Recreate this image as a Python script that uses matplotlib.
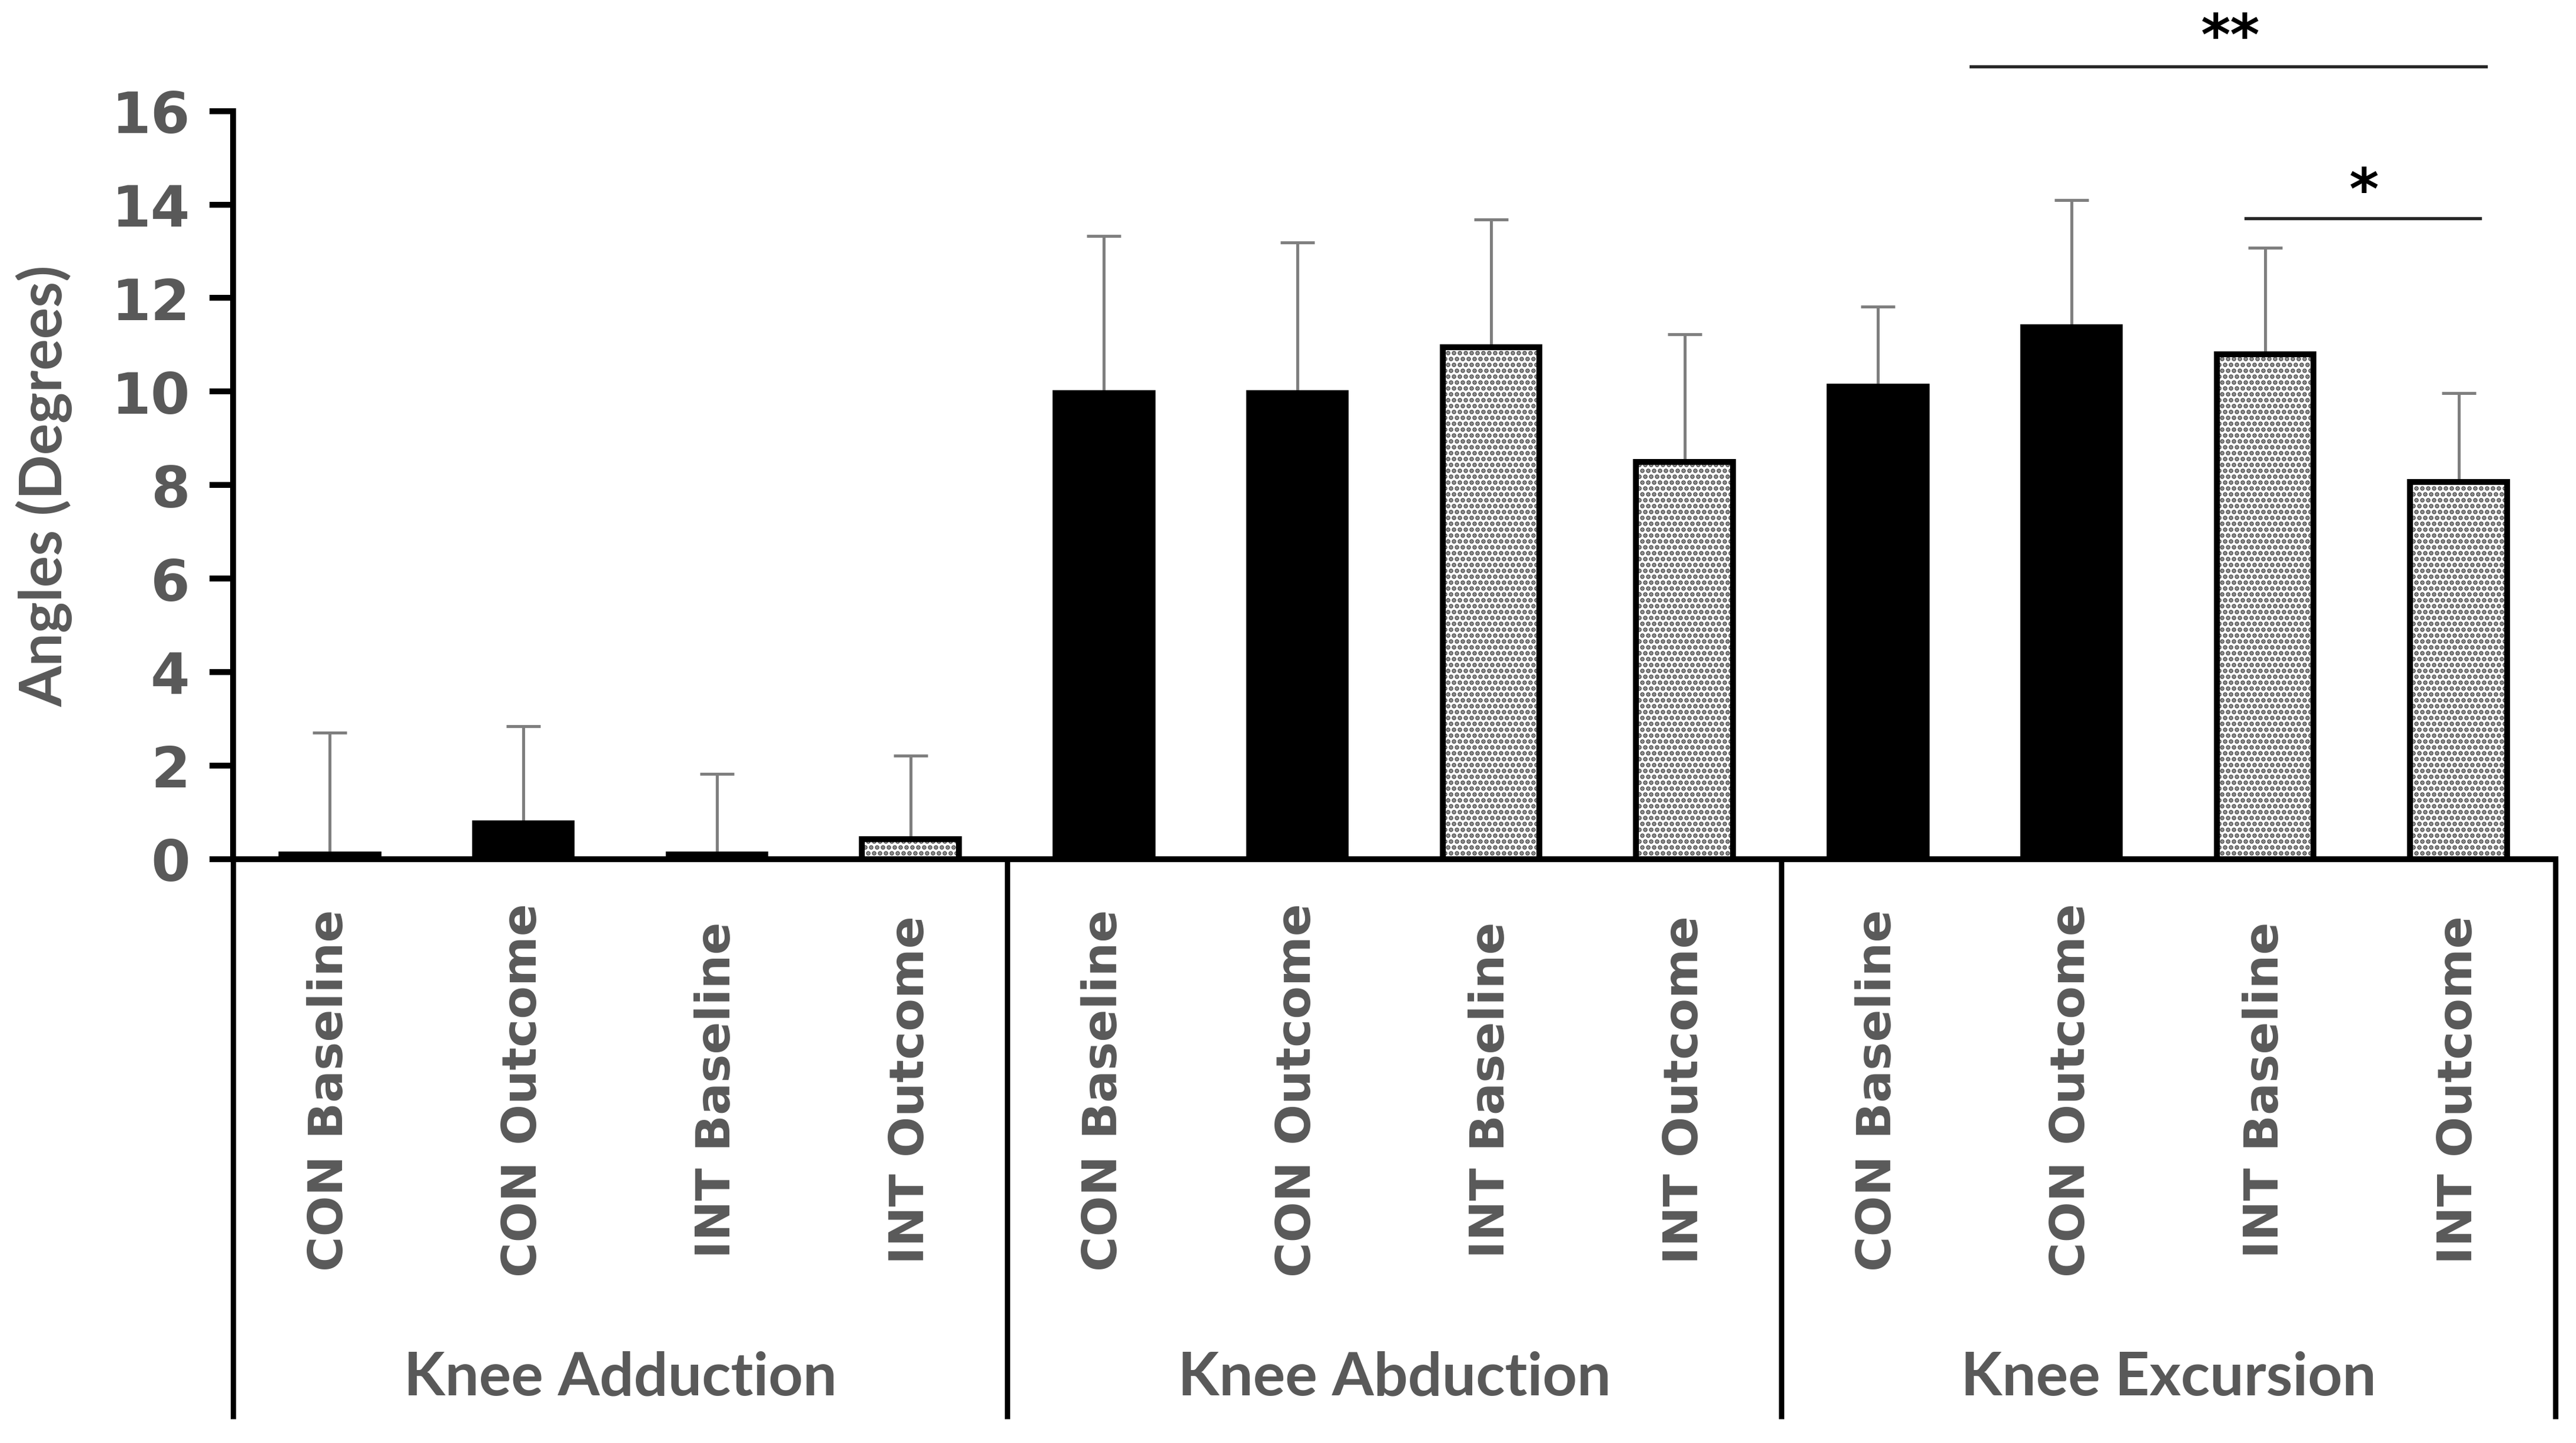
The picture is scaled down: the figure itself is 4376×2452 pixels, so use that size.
import numpy as np
import matplotlib

matplotlib.use("Agg")
import matplotlib.pyplot as plt

# data
groups = ["Knee Adduction", "Knee Abduction", "Knee Excursion"]
conditions = ["CON Baseline", "CON Outcome", "INT Baseline", "INT Outcome"]
means = [0.1, 0.77, 0.1, 0.42,
         9.96, 9.96, 10.95, 8.49,
         10.1, 11.37, 10.8, 8.07]
sds = [2.6, 2.07, 1.72, 1.79,
       3.37, 3.23, 2.73, 2.74,
       1.72, 2.73, 2.28, 1.89]
y_ticks = [0, 2, 4, 6, 8, 10, 12, 14, 16]

# significance brackets: (x start, x end, line y, label x, label y, label)
sig_marks = [
    (8.48, 11.14, 16.95, 9.82, 17.55, "**"),
    (9.90, 11.11, 13.71, 10.51, 14.25, "*"),
]

TEXT_GREY = "#595959"
ERR_GREY = "#7f7f7f"

labels = conditions * len(groups)
x = np.arange(len(labels))
is_int = np.array([lab.startswith("INT") for lab in labels])
means = np.array(means)
sds = np.array(sds)

fig = plt.figure(figsize=(4376 / 300, 2453 / 300), dpi=300)
ax = fig.add_axes([0.0905, 0.4045, 0.992 - 0.0905, 0.9227 - 0.4045])

plt.rcParams["hatch.linewidth"] = 1.3
bar_w = 0.5
edge_lw = 2.4

# CON bars: solid black
ax.bar(x[~is_int], means[~is_int], width=bar_w, color="black",
       edgecolor="black", linewidth=edge_lw, zorder=2)

# INT bars: dotted fill, then black outline on top
ax.bar(x[is_int], means[is_int], width=bar_w, color="white",
       edgecolor="#555555", hatch=".....", linewidth=0, zorder=2)
ax.bar(x[is_int], means[is_int], width=bar_w, fill=False,
       edgecolor="black", linewidth=edge_lw, zorder=3)

ax.errorbar(x, means, yerr=[np.zeros_like(sds), sds], fmt="none",
            ecolor=ERR_GREY, elinewidth=1.2, capsize=7, capthick=1.2,
            zorder=1)

ax.set_xlim(-0.5, len(labels) - 0.5)
ax.set_ylim(0, 16)
ax.set_yticks(y_ticks)
ax.set_yticklabels([str(t) for t in y_ticks], fontsize=23,
                   fontweight="bold", color=TEXT_GREY)

ax.set_xticks(x)
ax.set_xticklabels(labels, rotation=90, va="center", ha="center",
                   fontsize=19.5, fontweight="bold", color=TEXT_GREY)
ax.tick_params(axis="x", length=0, pad=94)
ax.tick_params(axis="y", direction="out", length=9.6, width=2.4,
               color="black", pad=8)

for side in ["top", "right"]:
    ax.spines[side].set_visible(False)
for side in ["left", "bottom"]:
    ax.spines[side].set_linewidth(2.4)
    ax.spines[side].set_color("black")

ax.set_ylabel("Angles (Degrees)", fontsize=24, fontweight="bold",
              color=TEXT_GREY, family="Lato")
ax.yaxis.set_label_coords(-0.069, 0.5)

# group separators and labels below the axis
xt = ax.get_xaxis_transform()
n_per = len(conditions)
for k in range(len(groups) + 1):
    xs = k * n_per - 0.5
    ax.plot([xs, xs], [0, -0.748], transform=xt, color="black",
            linewidth=2.2, clip_on=False, solid_capstyle="butt")
for k, g in enumerate(groups):
    ax.text(k * n_per + (n_per - 1) / 2, -0.693, g, transform=xt,
            ha="center", va="center", fontsize=24.5, fontweight="bold",
            color=TEXT_GREY, family="Lato")

for x0, x1, ly, tx, ty, txt in sig_marks:
    ax.plot([x0, x1], [ly, ly], color="#262626", linewidth=1.3,
            clip_on=False)
    ax.text(tx, ty, txt, ha="center", va="center", fontsize=23,
            fontweight="bold", color="black", clip_on=False)

fig.savefig("out.png", dpi=300)
